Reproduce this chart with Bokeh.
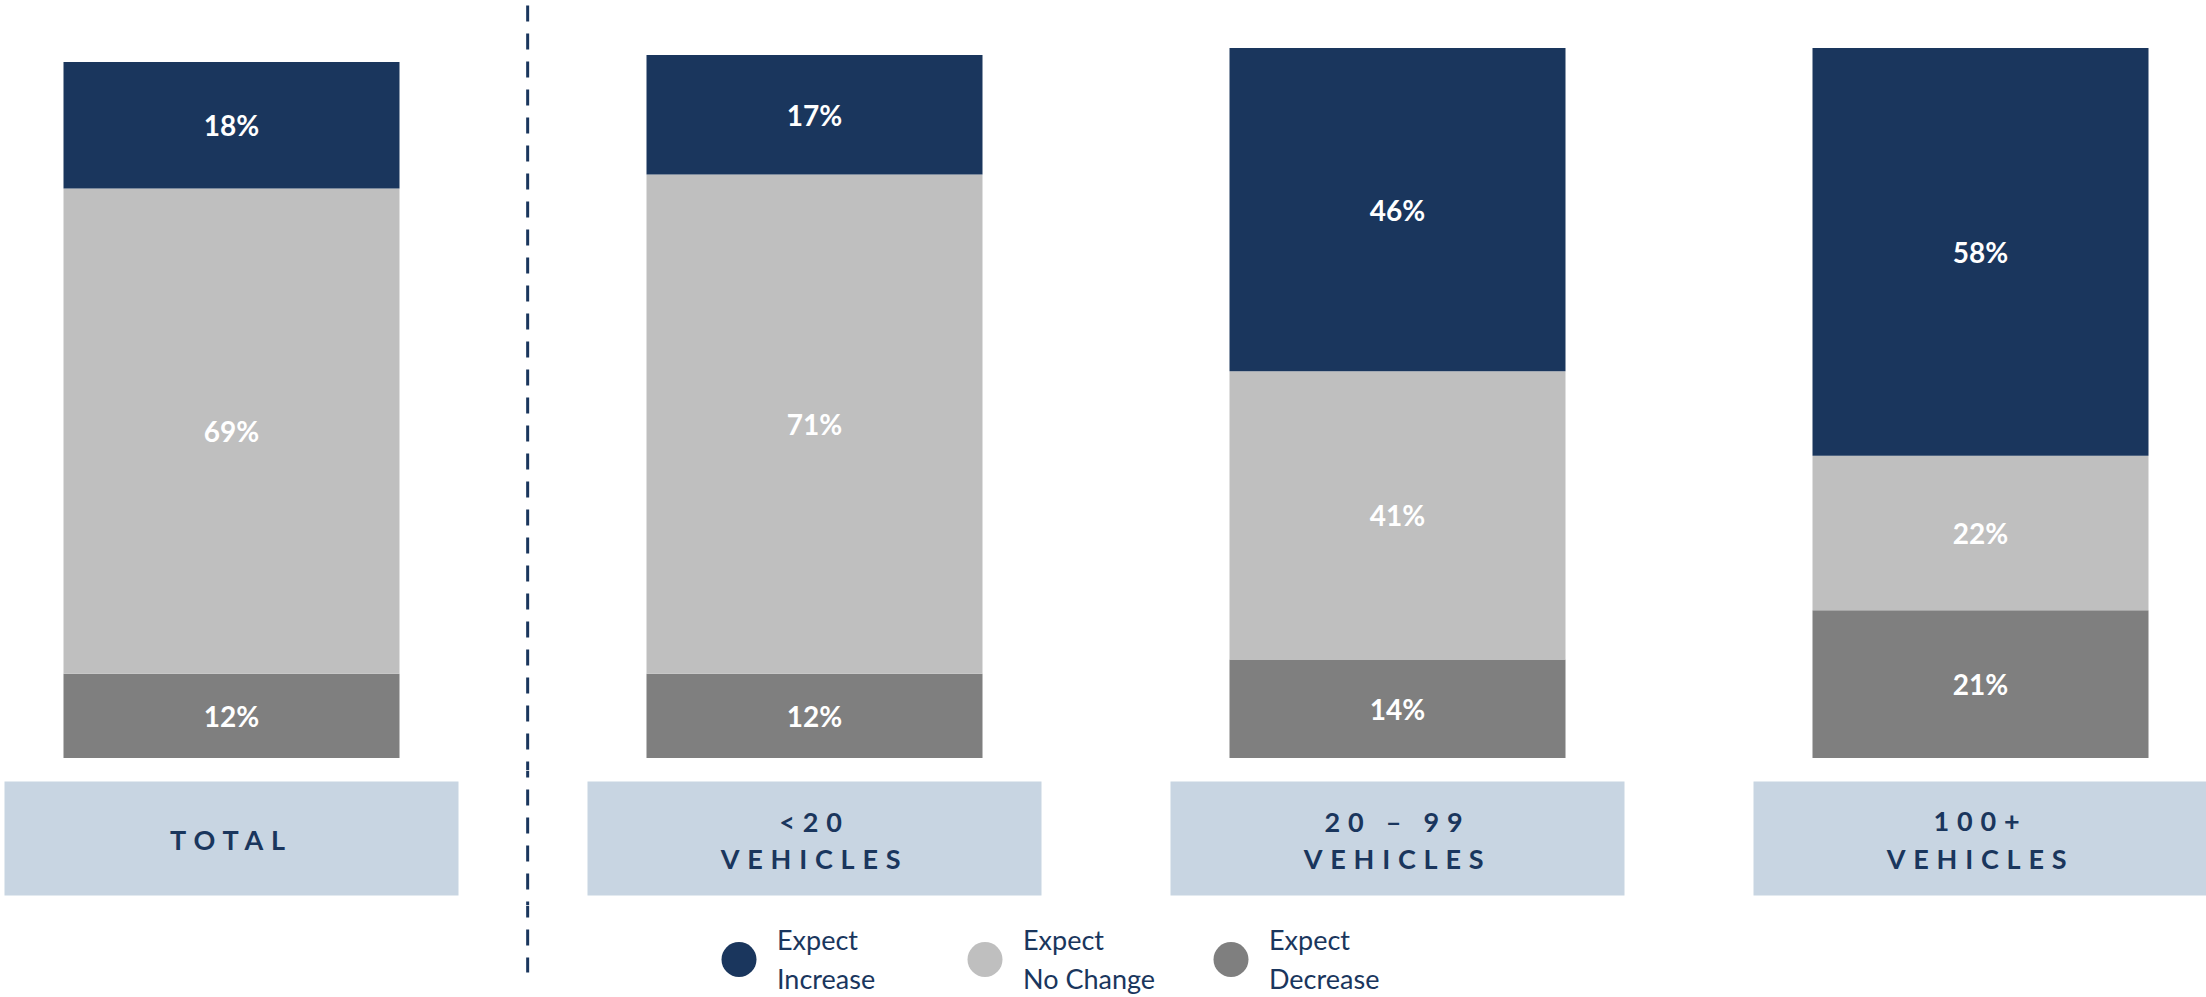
from bokeh.plotting import figure
from bokeh.models import Range1d, ColumnDataSource
from bokeh.layouts import column
from bokeh.embed import file_html
from bokeh.resources import INLINE
from bokeh.core.properties import value

# ---------------- data ----------------
categories = ["TOTAL", "<20\nVEHICLES", "20 – 99\nVEHICLES", "100+\nVEHICLES"]
series = ["Expect Increase", "Expect No Change", "Expect Decrease"]
increase = [18, 17, 46, 58]
no_change = [69, 71, 41, 22]
decrease = [12, 12, 14, 21]

# ---------------- style ----------------
BLUE = "#1A365D"
LIGHT = "#BFBFBF"
DARK = "#7F7F7F"
BOX = "#C8D5E2"
FONT = "Lato"

W = 2206
UNIT = 583.0              # px per category
C0 = 231.0                # px of first category centre inside the frame
x_start = -C0 / UNIT
x_end = x_start + W / UNIT
xr = Range1d(x_start, x_end)

H1, H2, H3 = 770, 135, 92
PX_PER_PCT = 7.03
BASE = 757.5              # px from top of f1 to the zero line
y1_end = BASE / PX_PER_PCT
y1_start = (BASE - H1) / PX_PER_PCT

DIV_X = 0.508
DASH_PERIOD = 28
DASH_START = 5
LS = 7.8                  # letter spacing of the category labels (px)


def make_fig(h, yr, **kw):
    f = figure(width=W, height=h, x_range=xr, y_range=yr,
               x_axis_type=None, y_axis_type=None,
               toolbar_location=None, output_backend="svg",
               min_border=0, outline_line_color=None,
               background_fill_color="white", border_fill_color="white", **kw)
    f.grid.visible = False
    return f


xs = list(range(len(categories)))

# ---------------- figure 1: bars ----------------
f1 = make_fig(H1, Range1d(y1_start, y1_end))
src = ColumnDataSource(dict(x=xs, decrease=decrease, no_change=no_change, increase=increase))
f1.vbar_stack(["decrease", "no_change", "increase"], x="x", width=336 / UNIT,
              fill_color=[DARK, LIGHT, BLUE], line_color=None, source=src)

lx, ly, lt = [], [], []
for i in xs:
    b = 0
    for v in (decrease[i], no_change[i], increase[i]):
        lx.append(i)
        ly.append(b + v / 2)
        lt.append(f"{v}%")
        b += v
f1.text(x=lx, y=ly, text=lt, text_color="white", text_font=value(FONT),
        text_font_style="bold", text_font_size="28px",
        text_align="center", text_baseline="middle")

f1.segment(x0=[DIV_X], y0=[y1_end], x1=[DIV_X], y1=[y1_start],
           line_color=BLUE, line_width=3, line_dash="16 12",
           line_dash_offset=(0 - DASH_START) % DASH_PERIOD)

# ---------------- figure 2: category boxes ----------------
f2 = make_fig(H2, Range1d(905, 770), styles={"letter-spacing": f"{LS}px"})
f2.rect(x=xs, y=[838] * len(xs), width=454 / UNIT, height=114,
        fill_color=BOX, line_color=None)
tx, ty, tt = [], [], []
for i, c in enumerate(categories):
    lines = c.split("\n")
    if len(lines) == 1:
        tx.append(i); ty.append(839); tt.append(lines[0])
    else:
        tx += [i, i]; ty += [821, 858]; tt += lines
toff = [-len(t) * LS / 2 for t in tt]
f2.text(x=tx, y=ty, text=tt, x_offset=toff, text_color=BLUE, text_font=value(FONT),
        text_font_style="bold", text_font_size="27px",
        text_align="center", text_baseline="middle")
f2.segment(x0=[DIV_X], y0=[770], x1=[DIV_X], y1=[905],
           line_color=BLUE, line_width=3, line_dash="16 12",
           line_dash_offset=(770 - DASH_START) % DASH_PERIOD)

# ---------------- figure 3: legend ----------------
f3 = make_fig(H3, Range1d(997, 905))
leg_x0 = (738.5 - C0) / UNIT
leg_step = 246 / UNIT
leg_x = [leg_x0 + k * leg_step for k in range(len(series))]
f3.scatter(x=leg_x, y=[959] * len(series), size=35, marker="circle",
           fill_color=[BLUE, LIGHT, DARK], line_color=None)
l1 = [s.split(" ", 1)[0] for s in series]
l2 = [s.split(" ", 1)[1] for s in series]
f3.text(x=leg_x, y=[939] * len(series), text=l1, x_offset=38, text_color=BLUE,
        text_font=value(FONT), text_font_size="27px", text_align="left",
        text_baseline="middle")
f3.text(x=leg_x, y=[977.5] * len(series), text=l2, x_offset=38, text_color=BLUE,
        text_font=value(FONT), text_font_size="27px", text_align="left",
        text_baseline="middle")
f3.segment(x0=[DIV_X], y0=[905], x1=[DIV_X], y1=[972],
           line_color=BLUE, line_width=3, line_dash="16 12",
           line_dash_offset=(905 - DASH_START) % DASH_PERIOD)

layout = column(f1, f2, f3, spacing=0)
open("out.html", "w").write(file_html(layout, INLINE))
